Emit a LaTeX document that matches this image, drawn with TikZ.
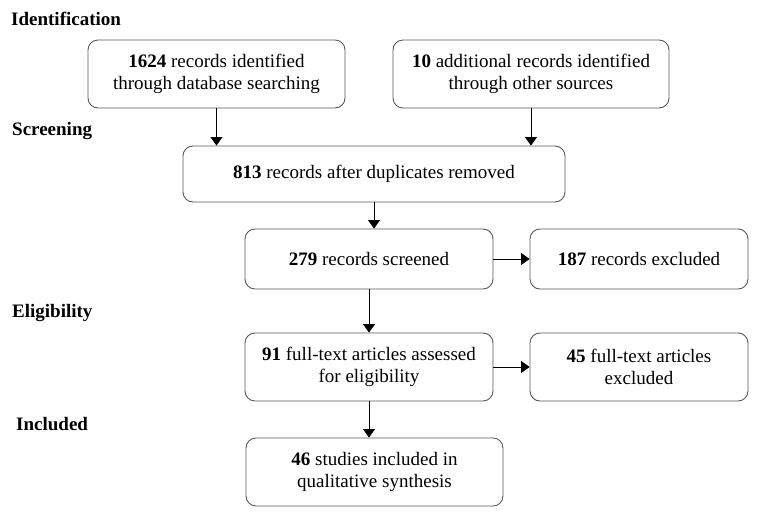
\documentclass[tikz,border=0pt]{standalone}
\usepackage{fontspec}
\setmainfont{Liberation Serif}
\usetikzlibrary{arrows.meta}

\begin{document}
\begin{tikzpicture}[x=1pt,y=-1pt,
    box/.style={draw=black!65, line width=0.9pt, rounded corners=10pt, align=center, inner sep=0pt,
        font=\fontsize{19}{22}\selectfont},
    phase/.style={anchor=base west, inner sep=0pt, font=\fontsize{19}{22}\selectfont\bfseries},
    flow/.style={line width=0.9pt, -{Triangle[length=8.5pt,width=12pt]}}]
    \useasboundingbox (0,0) rectangle (772,513);

    \node[phase] (ident) at (11,26) {Identification};
    \node[phase] (screen) at (12,135.5) {Screening};
    \node[phase] (elig) at (12,318) {Eligibility};
    \node[phase] (incl) at (16,431) {Included};

    \node[box, minimum width=257pt, minimum height=68pt] (db) at (216.5,74) {\textbf{1624} records identified\\through database searching};
    \node[box, minimum width=276pt, minimum height=68pt] (other) at (531,74) {\textbf{10} additional records identified\\through other sources};
    \node[box, minimum width=382pt, minimum height=56pt] (dup) at (374,174) {\textbf{813} records after duplicates removed};
    \node[box, minimum width=248pt, minimum height=60pt] (scr) at (369,259) {\textbf{279} records screened};
    \node[box, minimum width=218pt, minimum height=60pt] (exc) at (639,259) {\textbf{187} records excluded};
    \node[box, minimum width=248pt, minimum height=68pt] (full) at (369,367) {\textbf{91} full-text articles assessed\\for eligibility};
    \node[box, minimum width=218pt, minimum height=68pt] (fexc) at (639,367) {\textbf{45} full-text articles\\excluded};
    \node[box, minimum width=257pt, minimum height=68pt] (study) at (374.5,472) {\textbf{46} studies included in\\qualitative synthesis};

    \draw[flow] (db.south) -- (db.south |- dup.north);
    \draw[flow] (other.south) -- (other.south |- dup.north);
    \draw[flow] (dup.south) -- (dup.south |- scr.north);
    \draw[flow] (scr.south) -- (scr.south |- full.north);
    \draw[flow] (scr.east) -- (exc.west);
    \draw[flow] (full.east) -- (fexc.west);
    \draw[flow] (full.south) -- (full.south |- study.north);
\end{tikzpicture}
\end{document}
